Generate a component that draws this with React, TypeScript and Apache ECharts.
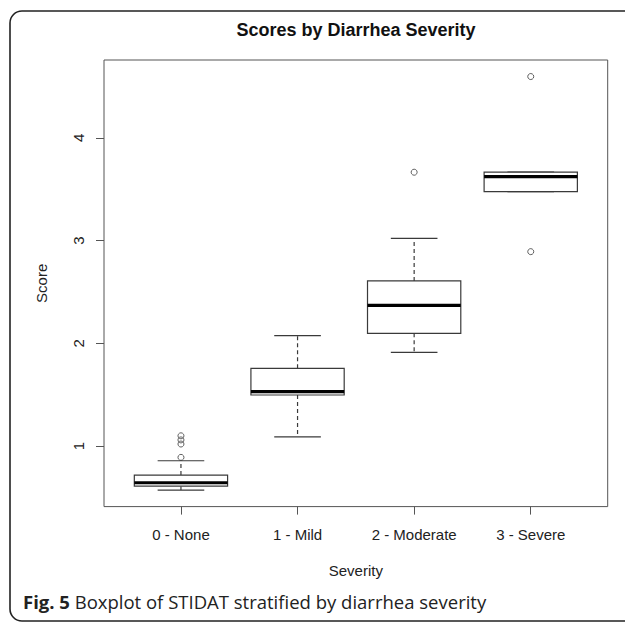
import React, { useEffect, useRef } from "react";
import * as echarts from "echarts";

// ---- data ----
const categories = ["0 - None", "1 - Mild", "2 - Moderate", "3 - Severe"];
// five-number summaries per category
const lowWhisker = [0.572, 1.09, 1.912, 3.476];
const q1Values = [0.61, 1.497, 2.097, 3.476];
const medianValues = [0.643, 1.529, 2.37, 3.622];
const q3Values = [0.718, 1.757, 2.607, 3.665];
const highWhisker = [0.857, 2.074, 3.022, 3.665];
// outliers: category number (1-based) and value
const outlierCategory = [1, 1, 1, 1, 3, 4, 4];
const outlierValues = [1.1, 1.06, 1.02, 0.89, 3.665, 4.596, 2.892];
const yTicks = [1, 2, 3, 4];
const xTicks = [1, 2, 3, 4];

const titleText = "Scores by Diarrhea Severity";
const xName = "Severity";
const yName = "Score";

export default function App() {
  const ref = useRef<HTMLDivElement>(null);
  useEffect(() => {
    if (!ref.current) return;
    const chart = echarts.init(ref.current, null, { renderer: "svg" });
    const boxData = categories.map((_, i) => [
      i + 1,
      lowWhisker[i],
      q1Values[i],
      medianValues[i],
      q3Values[i],
      highWhisker[i],
    ]);
    const outlierData = outlierValues.map((v, i) => [outlierCategory[i], v]);
    const lineColor = "#3a3a3a";
    const font = "'Liberation Sans', Arial, sans-serif";

    chart.setOption({
      animation: false,
      backgroundColor: "#ffffff",
      title: {
        text: titleText,
        left: 356,
        textAlign: "center",
        top: 21,
        padding: 0,
        textStyle: {
          fontFamily: font,
          fontWeight: "bold",
          fontSize: 18,
          color: "#111",
        },
      },
      grid: {
        left: 104,
        top: 60,
        width: 503.7,
        height: 446.6,
        show: true,
        borderColor: "#555",
        borderWidth: 1,
        backgroundColor: "transparent",
      },
      xAxis: {
        type: "value",
        min: 0.34,
        max: 4.66,
        name: xName,
        nameLocation: "middle",
        nameGap: 56,
        nameTextStyle: { fontFamily: font, fontSize: 15, color: "#222", verticalAlign: "top" },
        axisLine: { show: false },
        splitLine: { show: false },
        axisTick: {
          show: true,
          length: 8,
          customValues: xTicks,
          lineStyle: { color: "#555", width: 1 },
        },
        axisLabel: {
          customValues: xTicks,
          margin: 20,
          fontFamily: font,
          fontSize: 15,
          color: "#222",
          formatter: (v: number) => categories[Math.round(v) - 1] ?? "",
        },
      },
      yAxis: {
        type: "value",
        min: 0.411,
        max: 4.757,
        name: yName,
        nameLocation: "middle",
        nameGap: 55,
        nameRotate: 90,
        nameTextStyle: { fontFamily: font, fontSize: 15, color: "#222" },
        axisLine: { show: false },
        splitLine: { show: false },
        axisTick: {
          show: true,
          length: 8,
          customValues: yTicks,
          lineStyle: { color: "#555", width: 1 },
        },
        axisLabel: {
          customValues: yTicks,
          rotate: 90,
          margin: 18,
          fontFamily: font,
          fontSize: 15,
          color: "#222",
        },
      },
      graphic: [
        {
          type: "rect",
          shape: { x: 10, y: 11, width: 640, height: 610, r: 12 },
          style: { fill: "none", stroke: "#222", lineWidth: 1.6 },
          silent: true,
        },
        {
          type: "text",
          x: 23,
          y: 601,
          style: {
            text: "{b|Fig. 5} Boxplot of STIDAT stratified by diarrhea severity",
            fontFamily: "'Open Sans', sans-serif",
            fontSize: 18.5,
            fill: "#222",
            verticalAlign: "middle",
            rich: {
              b: {
                fontFamily: "'Open Sans', sans-serif",
                fontWeight: "bold",
                fontSize: 18.5,
                fill: "#222",
              },
            },
          },
        },
      ],
      series: [
        {
          type: "custom",
          data: boxData,
          renderItem: (params: any, api: any) => {
            const x = api.value(0);
            const lo = api.coord([x, api.value(1)]);
            const q1 = api.coord([x, api.value(2)]);
            const md = api.coord([x, api.value(3)]);
            const q3 = api.coord([x, api.value(4)]);
            const hi = api.coord([x, api.value(5)]);
            const boxW = api.size([0.8, 0])[0];
            const capW = api.size([0.4, 0])[0];
            const cx = lo[0];
            const ls = { stroke: lineColor, lineWidth: 1.2, fill: "none" };
            const dash = { stroke: lineColor, lineWidth: 1.2, lineDash: [4, 3] };
            return {
              type: "group",
              children: [
                { type: "line", shape: { x1: cx, y1: q3[1], x2: cx, y2: hi[1] }, style: dash },
                { type: "line", shape: { x1: cx, y1: q1[1], x2: cx, y2: lo[1] }, style: dash },
                { type: "line", shape: { x1: cx - capW / 2, y1: hi[1], x2: cx + capW / 2, y2: hi[1] }, style: ls },
                { type: "line", shape: { x1: cx - capW / 2, y1: lo[1], x2: cx + capW / 2, y2: lo[1] }, style: ls },
                {
                  type: "rect",
                  shape: { x: cx - boxW / 2, y: q3[1], width: boxW, height: q1[1] - q3[1] },
                  style: { stroke: lineColor, lineWidth: 1.2, fill: "#ffffff" },
                },
                {
                  type: "line",
                  shape: { x1: cx - boxW / 2, y1: md[1], x2: cx + boxW / 2, y2: md[1] },
                  style: { stroke: "#000", lineWidth: 3.2 },
                },
              ],
            };
          },
          z: 2,
        },
        {
          type: "scatter",
          data: outlierData,
          symbol: "circle",
          symbolSize: 6,
          itemStyle: { color: "rgba(255,255,255,0)", borderColor: lineColor, borderWidth: 1 },
          z: 3,
        },
      ],
    });
    return () => chart.dispose();
  }, []);
  return (
    <div
      ref={ref}
      style={{ position: "fixed", left: 0, top: 0, width: 625, height: 624, background: "#fff" }}
    />
  );
}
